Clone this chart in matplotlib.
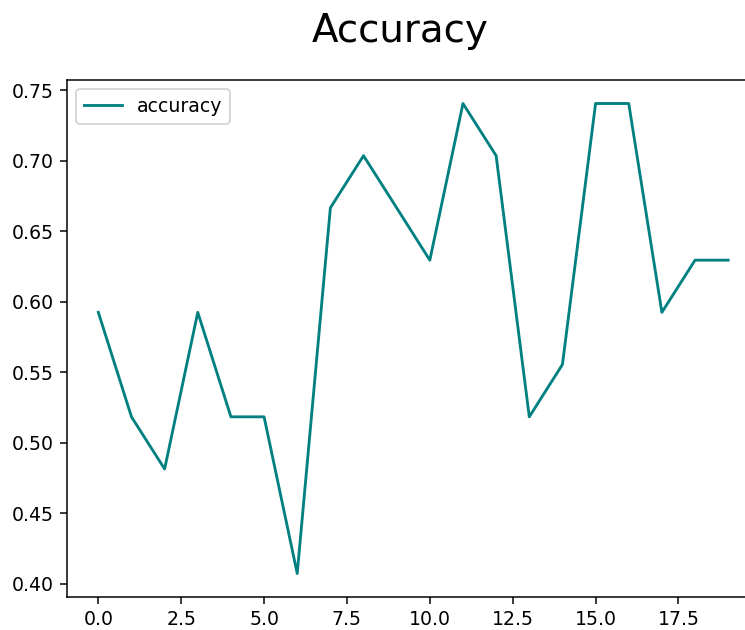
import numpy as np
import matplotlib.pyplot as plt

# accuracy per epoch
epochs = list(range(20))
accuracy = [0.5926, 0.5185, 0.4815, 0.5926, 0.5185, 0.5185, 0.4074, 0.6667, 0.7037, 0.6667,
            0.6296, 0.7407, 0.7037, 0.5185, 0.5556, 0.7407, 0.7407, 0.5926, 0.6296, 0.6296]

dpi = 136
fig = plt.figure(figsize=(745 / dpi, 630 / dpi), dpi=dpi)
# original is cropped on the right, so the axes run past the edge
ax = fig.add_axes([0.0897, 0.0524, 0.930, 0.8206])
ax.plot(epochs, accuracy, color='teal', label='accuracy')
fig.suptitle("Accuracy", fontsize=20.5, x=0.537, y=0.950, va='center')
ax.legend(loc='upper left')
fig.savefig("out.png", dpi=dpi)
